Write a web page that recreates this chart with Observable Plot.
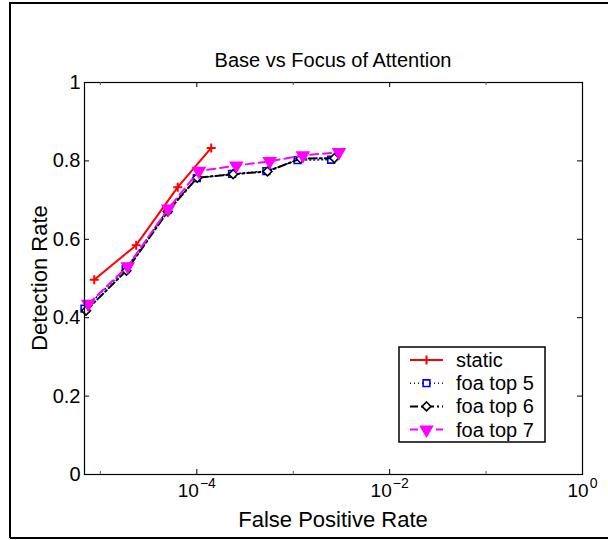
<!DOCTYPE html>
<html><head><meta charset="utf-8">
<script src="https://cdn.jsdelivr.net/npm/d3@7"></script>
<script src="https://cdn.jsdelivr.net/npm/@observablehq/plot@0.6"></script>
<style>body{margin:0;background:#fff;} #chart{width:608px;height:540px;}</style>
</head><body><div id="chart"></div>
<script>
// ---- data ----
const seriesNames = ["static", "foa top 5", "foa top 6", "foa top 7"];
const staticX = [8.63e-6, 2.35e-5, 6.34e-5, 1.41e-4];
const staticY = [0.497, 0.585, 0.733, 0.833];
const foa5X = [6.84e-6, 1.83e-5, 4.99e-5, 1.0e-4, 2.32e-4, 5.26e-4, 1.11e-3, 2.47e-3];
const foa5Y = [0.423, 0.524, 0.676, 0.756, 0.767, 0.774, 0.802, 0.803];
const foa6X = [7.1e-6, 1.86e-5, 5.0e-5, 1.01e-4, 2.38e-4, 5.4e-4, 1.19e-3, 2.67e-3];
const foa6Y = [0.418, 0.520, 0.671, 0.757, 0.766, 0.773, 0.806, 0.807];
const foa7X = [7.48e-6, 1.92e-5, 5.05e-5, 1.05e-4, 2.57e-4, 5.7e-4, 1.26e-3, 2.98e-3];
const foa7Y = [0.435, 0.531, 0.678, 0.774, 0.788, 0.799, 0.814, 0.822];
const yTicks = [0, 0.2, 0.4, 0.6, 0.8, 1];
const xMajorTicks = [1e-4, 1e-2, 1];
const xMinorTicks = [1e-5, 1e-3, 1e-1];
const xTickExponents = ["\u22124", "\u22122", "0"];
const titleText = "Base vs Focus of Attention";
const xLabel = "False Positive Rate";
const yLabel = "Detection Rate";

// ---- styles ----
const FONT = "'Liberation Sans', Arial, Helvetica, sans-serif";
const W = 608, H = 540;
const mL = 84, mR = 26, mT = 82, mB = 66;
const iw = W - mL - mR, ih = H - mT - mB;
const styles = [
  {color: "#ff0000", width: 2, dash: null, symbol: "plus", fill: "none", r: 3, rotate: 0},
  {color: "#0000ff", width: 1.5, dash: "1,3", symbol: "square", fill: "white", r: 3.8, rotate: 0},
  {color: "#000000", width: 2, dash: "8,3,2,3", symbol: "diamond2", fill: "white", r: 4, rotate: 0},
  {color: "#ff00ff", width: 2, dash: "8,5", symbol: "triangle", fill: "#ff00ff", r: 4.4, rotate: 180}
];
const seriesX = [staticX, foa5X, foa6X, foa7X];
const seriesY = [staticY, foa5Y, foa6Y, foa7Y];
const series = seriesNames.map((name, i) => seriesX[i].map((x, j) => ({name, x, y: seriesY[i][j]})));

const ctx = document.createElement("canvas").getContext("2d");
function tw(s, size) { ctx.font = `${size}px ${FONT}`; return ctx.measureText(s).width; }

const marks = [];
series.forEach((data, i) => {
  const s = styles[i];
  marks.push(Plot.line(data, {x: "x", y: "y", stroke: s.color, strokeWidth: s.width, strokeDasharray: s.dash}));
  marks.push(Plot.dot(data, {x: "x", y: "y", symbol: s.symbol, r: s.r, rotate: s.rotate,
    stroke: s.color, fill: s.fill, strokeWidth: s.symbol === "plus" ? 2 : 1.6}));
});
marks.push(Plot.frame({stroke: "black", strokeWidth: 1.2}));
marks.push(Plot.tickY(yTicks, {y: d => d, insetRight: iw - 5, stroke: "black"}));
marks.push(Plot.tickY(yTicks, {y: d => d, insetLeft: iw - 5, stroke: "black"}));
marks.push(Plot.tickX(xMajorTicks, {x: d => d, insetTop: ih - 5, stroke: "black"}));
marks.push(Plot.tickX(xMajorTicks, {x: d => d, insetBottom: ih - 5, stroke: "black"}));
marks.push(Plot.tickX(xMinorTicks, {x: d => d, insetTop: ih - 3, stroke: "#555"}));
marks.push(Plot.tickX(xMinorTicks, {x: d => d, insetBottom: ih - 3, stroke: "#555"}));
marks.push(Plot.text(yTicks, {y: d => d, frameAnchor: "left", text: d => String(d), textAnchor: "end", dx: -4, fontSize: 20, fill: "black"}));
xMajorTicks.forEach((t, i) => {
  const wb = tw("10", 19), we = tw(xTickExponents[i], 14);
  const Wt = wb + we + 1;
  marks.push(Plot.text([t], {x: d => d, frameAnchor: "bottom", text: () => "10", textAnchor: "start", dx: -Wt / 2, dy: 22.9, fontSize: 19, fill: "black"}));
  marks.push(Plot.text([t], {x: d => d, frameAnchor: "bottom", text: () => xTickExponents[i], textAnchor: "start", dx: -Wt / 2 + wb + 1, dy: 13.5, fontSize: 14, fill: "black"}));
});

const svg = Plot.plot({
  width: W, height: H,
  marginLeft: mL, marginRight: mR, marginTop: mT, marginBottom: mB,
  x: {type: "log", domain: [6.84e-6, 1], axis: null},
  y: {domain: [0, 1], axis: null},
  style: {fontFamily: FONT, color: "black", background: "white", overflow: "visible"},
  marks
});
document.getElementById("chart").appendChild(svg);

// ---- annotations ----
const g = d3.select(svg).append("g").attr("font-family", FONT).attr("fill", "black").attr("text-anchor", "middle");
g.append("path").attr("d", `M10,538V3H${W}M10,538H${W}`).attr("fill", "none").attr("stroke", "black").attr("stroke-width", 2);
g.append("text").attr("x", mL + iw / 2).attr("y", 66.5).attr("font-size", 20).text(titleText);
g.append("text").attr("x", mL + iw / 2).attr("y", 527).attr("font-size", 22).text(xLabel);
g.append("text").attr("transform", `translate(47,${mT + ih / 2}) rotate(-90)`).attr("font-size", 22).text(yLabel);

// legend
const lg = d3.select(svg).append("g").attr("font-family", FONT).attr("text-anchor", "start");
lg.append("rect").attr("x", 399).attr("y", 347).attr("width", 146).attr("height", 95)
  .attr("fill", "white").attr("stroke", "black").attr("stroke-width", 1.5);
const symMap = {plus: d3.symbolPlus, square: d3.symbolSquare, diamond2: d3.symbolDiamond2, triangle: d3.symbolTriangle};
seriesNames.forEach((name, i) => {
  const s = styles[i];
  const cy = 360 + i * 23.2;
  lg.append("line").attr("x1", 410).attr("x2", 443).attr("y1", cy).attr("y2", cy)
    .attr("stroke", s.color).attr("stroke-width", s.width).attr("stroke-dasharray", s.dash);
  lg.append("path").attr("d", d3.symbol(symMap[s.symbol], Math.PI * s.r * s.r)())
    .attr("transform", `translate(426.5,${cy}) rotate(${s.rotate})`)
    .attr("fill", s.fill).attr("stroke", s.color).attr("stroke-width", s.symbol === "plus" ? 2 : 1.6);
  lg.append("text").attr("x", 456).attr("y", cy + 7).attr("font-size", 20).attr("fill", "black").attr("text-anchor", "start").text(name);
});
</script></body></html>
